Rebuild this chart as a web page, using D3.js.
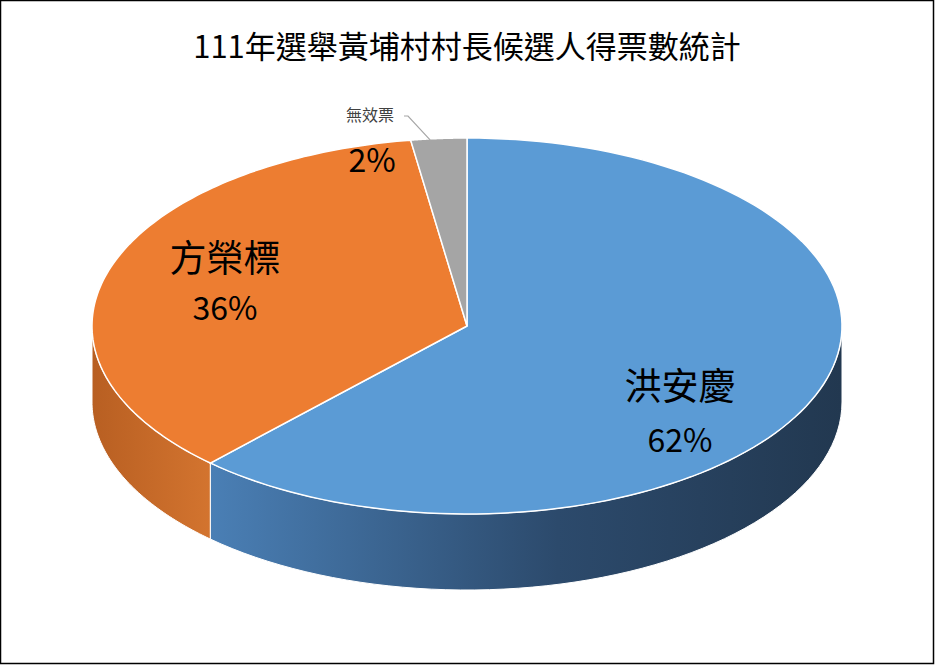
<!DOCTYPE html>
<html>
<head>
<meta charset="utf-8">
<style>
body{margin:0;background:#fff;}
text{font-family:"Noto Sans CJK TC","Noto Sans",sans-serif;}
</style>
</head>
<body>
<svg id="svg"></svg>
<script src="https://cdnjs.cloudflare.com/ajax/libs/d3/7.8.5/d3.min.js"></script>
<script>
// data
var names = ['洪安慶', '方榮標', '無效票'];
var shares = [62.0, 35.6, 2.4];
var colors = ['#5B9BD5', '#ED7D31', '#A5A5A5'];
var title = '111年選舉黃埔村村長候選人得票數統計';

var W = 935, H = 665;
var cx = 467, cy = 326, rx = 375, ry = 188, depth = 76;

var svg = d3.select('#svg').attr('width', W).attr('height', H);
svg.append('rect').attr('x', 0.5).attr('y', 0.5).attr('width', W - 2).attr('height', H - 2)
  .attr('fill', '#fff').attr('stroke', '#000').attr('stroke-width', 1.5);

var defs = svg.append('defs');
var g1 = defs.append('linearGradient').attr('id', 'gb').attr('x1', '0').attr('x2', '1').attr('y1', 0).attr('y2', 0);
g1.append('stop').attr('offset', '0').attr('stop-color', '#4a7fb5');
g1.append('stop').attr('offset', '0.55').attr('stop-color', '#2c4a6c');
g1.append('stop').attr('offset', '1').attr('stop-color', '#223850');
var g2 = defs.append('linearGradient').attr('id', 'go').attr('x1', '0').attr('x2', '1').attr('y1', 0).attr('y2', 0);
g2.append('stop').attr('offset', '0').attr('stop-color', '#b85f22');
g2.append('stop').attr('offset', '1').attr('stop-color', '#d3742f');
var sideFill = ['url(#gb)', 'url(#go)', '#7a7a7a'];

var pie = d3.pie().sort(null).value(function(d){ return d; });
var arcs = pie(shares);

function pt(a, dy){ return [cx + rx * Math.sin(a), cy - ry * Math.cos(a) + (dy || 0)]; }

// sides (visible between PI/2 and 3PI/2)
arcs.forEach(function(d, i){
  var a0 = Math.max(d.startAngle, Math.PI / 2), a1 = Math.min(d.endAngle, 3 * Math.PI / 2);
  if (a1 <= a0) return;
  var n = 60, top = [], bot = [];
  for (var k = 0; k <= n; k++){
    var a = a0 + (a1 - a0) * k / n;
    top.push(pt(a)); bot.push(pt(a, depth));
  }
  var p = top.concat(bot.reverse());
  svg.append('path').attr('d', 'M' + p.join('L') + 'Z').attr('fill', sideFill[i])
    .attr('stroke', '#fff').attr('stroke-width', 1);
});

// tops
arcs.forEach(function(d, i){
  var n = 120, p = [[cx, cy]];
  for (var k = 0; k <= n; k++){
    p.push(pt(d.startAngle + (d.endAngle - d.startAngle) * k / n));
  }
  svg.append('path').attr('d', 'M' + p.join('L') + 'Z').attr('fill', colors[i])
    .attr('stroke', '#fff').attr('stroke-width', 1.5);
});

function pct(v){ return Math.round(v) + '%'; }

svg.append('text').attr('x', cx).attr('y', 58).attr('text-anchor', 'middle')
  .attr('font-size', 31).text(title);

svg.append('text').attr('x', 680).attr('y', 400).attr('text-anchor', 'middle').attr('font-size', 37).text(names[0]);
svg.append('text').attr('x', 680).attr('y', 452).attr('text-anchor', 'middle').attr('font-size', 32).text(pct(shares[0]));
svg.append('text').attr('x', 225).attr('y', 272).attr('text-anchor', 'middle').attr('font-size', 37).text(names[1]);
svg.append('text').attr('x', 225).attr('y', 320).attr('text-anchor', 'middle').attr('font-size', 32).text(pct(shares[1]));
svg.append('text').attr('x', 370).attr('y', 121).attr('text-anchor', 'middle').attr('font-size', 16).attr('fill', '#404040').text(names[2]);
svg.append('text').attr('x', 372).attr('y', 172).attr('text-anchor', 'middle').attr('font-size', 32).text(pct(shares[2]));
var ga = (arcs[2].startAngle + arcs[2].endAngle) / 2, gp = pt(ga);
svg.append('polyline').attr('points', [[404, 116], [408, 116], [gp[0] - 8, gp[1] + 2]].join(' '))
  .attr('fill', 'none').attr('stroke', '#a6a6a6').attr('stroke-width', 1.2);
</script>
</body>
</html>
